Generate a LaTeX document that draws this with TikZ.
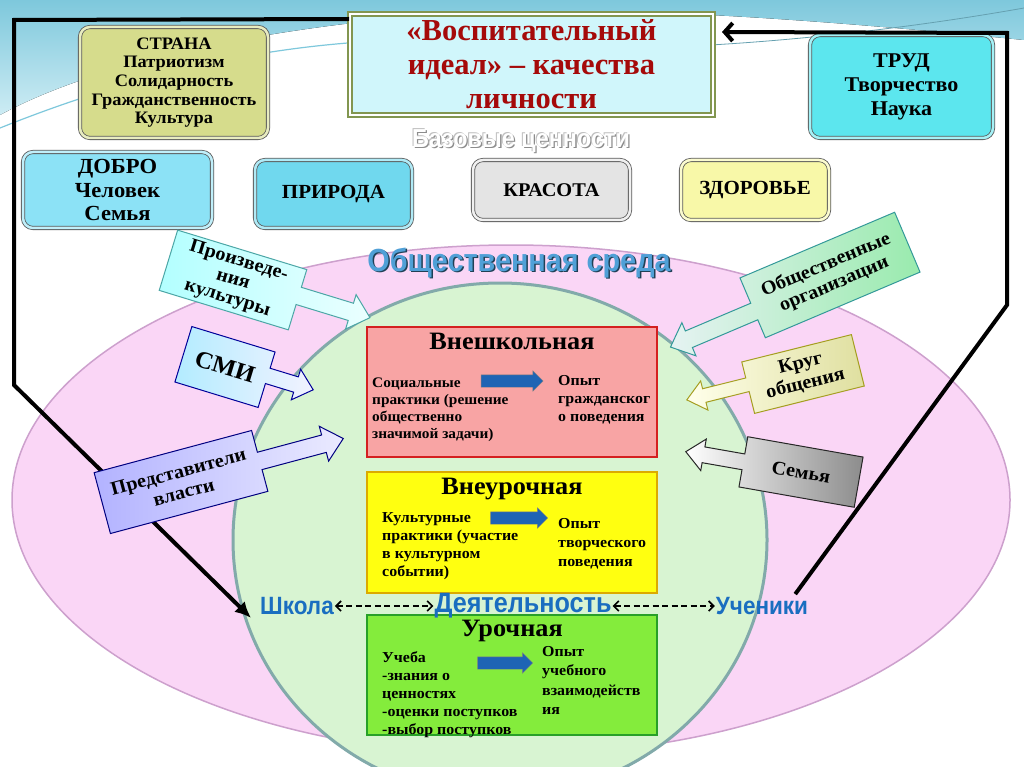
\documentclass[tikz,border=0pt]{standalone}
\usepackage{fontspec}
\setmainfont[FakeStretch=1.05]{Liberation Serif}
\newfontfamily\titleserif{Liberation Serif}
\newfontfamily\headsans[FakeStretch=0.9]{Liberation Sans}
\usetikzlibrary{arrows.meta,shapes.arrows,positioning}

\definecolor{skyblue}{RGB}{126,200,220}
\definecolor{skypale}{RGB}{205,236,244}
\definecolor{idealred}{RGB}{165,10,10}
\definecolor{idealfill}{RGB}{208,246,251}
\definecolor{idealedge}{RGB}{130,150,80}
\definecolor{stranafill}{RGB}{214,220,140}
\definecolor{trudfill}{RGB}{92,230,238}
\definecolor{dobrofill}{RGB}{140,226,246}
\definecolor{prirodafill}{RGB}{112,216,238}
\definecolor{krasotafill}{RGB}{228,228,228}
\definecolor{zdorfill}{RGB}{248,248,168}
\definecolor{sredapink}{RGB}{250,214,246}
\definecolor{sredaedge}{RGB}{205,160,205}
\definecolor{shkolagreen}{RGB}{216,244,210}
\definecolor{shkolaedge}{RGB}{130,170,170}
\definecolor{vneshfill}{RGB}{248,164,164}
\definecolor{vneshedge}{RGB}{212,32,32}
\definecolor{vneurfill}{RGB}{255,255,16}
\definecolor{vneuredge}{RGB}{220,170,0}
\definecolor{urokfill}{RGB}{132,236,60}
\definecolor{urokedge}{RGB}{40,160,40}
\definecolor{actblue}{RGB}{30,100,180}
\definecolor{labelblue}{RGB}{26,110,192}
\definecolor{sredablue}{RGB}{80,160,215}

\tikzset{
  valbox/.style={rectangle, rounded corners=10pt, draw=black!65, line width=0.8pt,
    double=#1!55!white, double distance=2.5pt, fill=#1, align=center, inner sep=2pt},
  actbox/.style={rectangle, fill=#1fill, draw=#1edge, line width=2pt,
    minimum width=290pt},
  acttitle/.style={font=\bfseries\fontsize{25}{26}\selectfont, inner sep=1pt},
  acttext/.style={anchor=north west, align=left, inner sep=0pt,
    font=\bfseries\fontsize{15.2}{18}\selectfont},
  bluearr/.style={single arrow, draw=black!50, fill=actblue, minimum height=#1,
    inner sep=0pt, inner ysep=6pt, single arrow head extend=4pt},
  calltext/.style={align=center, font=\bfseries\fontsize{19.2}{21}\selectfont},
  backline/.style={line width=4pt, black},
  dashlink/.style={dash pattern=on 6pt off 3.5pt, line width=1.6pt,
    {Straight Barb[length=5pt,width=10pt]}-{Straight Barb[length=5pt,width=10pt]}},
  actlabel/.style={font=\headsans\bfseries\fontsize{25}{26}\selectfont,
    text=labelblue, inner sep=1pt},
  basefont/.style={font=\headsans\bfseries\fontsize{26}{27}\selectfont},
}

\begin{document}
\begin{tikzpicture}[x=1pt,y=1pt]
  \useasboundingbox (0,0) rectangle (1024,-767);
  \clip (0,0) rectangle (1024,-767);
  \fill[white] (0,0) rectangle (1024,-767);

  % background swoosh
  \fill[top color=skyblue, bottom color=skypale] (0,0) -- (1024,0) -- (1024,-40)
    .. controls (820,-20) and (620,-4) .. (450,-14)
    .. controls (300,-24) and (110,-55) .. (0,-115) -- cycle;
  \draw[skyblue, line width=1.2pt] (0,-128) .. controls (120,-80) and (250,-45) .. (400,-40);
  \draw[skyblue!80!black, line width=0.8pt] (1024,-8) .. controls (900,-30) and (760,-45) .. (640,-48);

  % sredy
  \fill[sredapink, draw=sredaedge, line width=1.5pt] (511,-500) ellipse [x radius=499, y radius=255];
  \fill[shkolagreen, draw=shkolaedge, line width=3pt] (500,-540) ellipse [x radius=267, y radius=257];

  % ideal and base values
  \node[rectangle, fill=idealfill, draw=idealedge, line width=2pt, double=white,
        double distance=1.2pt, minimum width=363pt, minimum height=101pt, align=center,
        text=idealred, font=\titleserif\bfseries\fontsize{30.5}{34}\selectfont] (ideal) at (531.5,-64.5)
       {«Воспитательный\\идеал» – качества\\личности};

  \node[basefont, text=black!45] at (522.3,-142.3) {Базовые ценности};
  \node[basefont, text=black!25] at (520,-140) {Базовые ценности};
  \node[basefont, text=white] (bazovye) at (521,-141) {Базовые ценности};

  \node[valbox=stranafill, minimum width=188pt, minimum height=111pt,
        font=\bfseries\fontsize{17.5}{18.6}\selectfont] (strana) at (174,-82.5)
       {СТРАНА\\Патриотизм\\Солидарность\\Гражданственность\\Культура};
  \node[valbox=trudfill, minimum width=183pt, minimum height=103pt,
        font=\bfseries\fontsize{21}{24}\selectfont] (trud) at (901.5,-86.5)
       {ТРУД\\Творчество\\Наука};
  \node[valbox=dobrofill, minimum width=189pt, minimum height=76pt,
        font=\bfseries\fontsize{21.5}{23.5}\selectfont] (dobro) at (117.5,-190)
       {ДОБРО\\Человек\\Семья};
  \node[valbox=prirodafill, minimum width=157pt, minimum height=68pt,
        font=\bfseries\fontsize{20}{22}\selectfont] (priroda) at (333.5,-194) {ПРИРОДА};
  \node[valbox=krasotafill, minimum width=157pt, minimum height=60pt,
        font=\bfseries\fontsize{19.4}{22}\selectfont] (krasota) at (551.5,-190) {КРАСОТА};
  \node[valbox=zdorfill, minimum width=148pt, minimum height=60pt,
        font=\bfseries\fontsize{20}{22}\selectfont] (zdorovie) at (755,-190) {ЗДОРОВЬЕ};

  \node[text=sredablue!40!black, font=\headsans\bfseries\fontsize{32}{33}\selectfont] at (520.5,-264.5) {Общественная среда};
  \node[text=sredablue, font=\headsans\bfseries\fontsize{32}{33}\selectfont] (sreda) at (519,-263) {Общественная среда};

  % activity boxes
  \node[actbox=vnesh, minimum height=130pt] (vneshk) at (512,-392) {};
  \node[acttitle, below=6pt of vneshk.north] {Внешкольная};
  \node[acttext, font=\bfseries\fontsize{14.6}{16.8}\selectfont] (socpr) at (372,-378)
       {Социальные\\практики (решение\\общественно\\значимой задачи)};
  \node[acttext] (grazhd) at (558,-375) {Опыт\\гражданског\\о поведения};
  \node[bluearr=62pt] (arr1) at (509,-381) {};

  \node[actbox=vneur, minimum height=121pt] (vneur) at (512,-532.5) {};
  \node[acttitle, below=6pt of vneur.north] {Внеурочная};
  \node[acttext] (kultpr) at (382,-512)
       {Культурные\\практики (участие\\в культурном\\событии)};
  \node[acttext, font=\bfseries\fontsize{15.2}{19}\selectfont] (tvorch) at (558,-518)
       {Опыт\\творческого\\поведения};
  \node[bluearr=57pt] (arr2) at (516,-518) {};

  \node[actbox=urok, minimum height=120pt] (urok) at (512,-675) {};
  \node[acttitle, below=5pt of urok.north] {Урочная};
  \node[acttext] (ucheba) at (382,-651)
       {Учеба\\-знания о\\ценностях\\-оценки поступков\\-выбор поступков};
  \node[acttext, font=\bfseries\fontsize{15.2}{19.5}\selectfont] (uchvz) at (542,-646)
       {Опыт\\учебного\\взаимодейств\\ия};
  \node[bluearr=55pt] (arr3) at (502,-663) {};

  % school, activity, pupils
  \node[actlabel] (shkola) at (297,-606) {Школа};
  \node[actlabel, font=\headsans\bfseries\fontsize{28}{30}\selectfont] (deyat) at (523,-606) {Деятельность};
  \node[actlabel] (uchen) at (762,-606) {Ученики};
  \draw[dashlink] (shkola.east) -- (deyat.west);
  \draw[dashlink] (deyat.east) -- (uchen.west);

  % feedback lines
  \coordinate (lturn1) at (14,-20);
  \coordinate (lturn2) at (14,-385);
  \coordinate (rturn1) at (1007,-305);
  \coordinate (rturn2) at (1007,-33);
  \draw[backline, -{Latex[length=16pt,width=15pt]}]
    ([yshift=-6pt]ideal.north west) -- (lturn1) -- (lturn2) -- ([xshift=-8pt,yshift=-2pt]shkola.south west);
  \draw[backline, -{Straight Barb[length=8pt,width=18pt]}]
    ([xshift=-14pt,yshift=2pt]uchen.north east) -- (rturn1) -- (rturn2) -- ([xshift=8pt,yshift=-19pt]ideal.north east);

  % influences
  \begin{scope}[shift={(233,-280)}, rotate=-17, transform shape]
    \shade[left color=cyan!30, right color=cyan!8, draw=teal!70, line width=1pt]
      (-67.5,-31.5) -- (67.5,-31.5) -- (67.5,-5) -- (122,-5) -- (122,-14) -- (142,4)
      -- (122,22) -- (122,13) -- (67.5,13) -- (67.5,31.5) -- (-67.5,31.5) -- cycle;
    \node[calltext, font=\bfseries\fontsize{19.2}{19.5}\selectfont] (proizv) at (0,0) {Произведе-\\ния\\культуры};
  \end{scope}
  \begin{scope}[shift={(225,-367)}, rotate=-17, transform shape]
    \shade[left color=blue!25!cyan!30, right color=blue!5, draw=blue!60!black, line width=1pt]
      (-43.5,-29) -- (43.5,-29) -- (43.5,-4) -- (73,-4) -- (73,-12) -- (91,4)
      -- (73,20) -- (73,12) -- (43.5,12) -- (43.5,29) -- (-43.5,29) -- cycle;
    \node[calltext, font=\bfseries\fontsize{24}{26}\selectfont] (smi) at (0,0) {СМИ};
  \end{scope}
  \begin{scope}[shift={(181,-482)}, rotate=15, transform shape]
    \shade[left color=blue!30, right color=blue!8, draw=blue!50!black, line width=1pt]
      (-81.5,-31.5) -- (81.5,-31.5) -- (81.5,-9) -- (148,-9) -- (148,-18) -- (168,0)
      -- (148,18) -- (148,9) -- (81.5,9) -- (81.5,31.5) -- (-81.5,31.5) -- cycle;
    \node[calltext] (vlast) at (0,0) {Представители\\власти};
  \end{scope}
  \begin{scope}[shift={(830,-275)}, rotate=23, transform shape]
    \shade[left color=teal!10, right color=teal!40!green!40, draw=teal!80, line width=1pt]
      (84,-32.5) -- (-84,-32.5) -- (-84,-13) -- (-155,-13) -- (-155,-22) -- (-175,-4)
      -- (-155,14) -- (-155,5) -- (-84,5) -- (-84,32.5) -- (84,32.5) -- cycle;
    \node[calltext] (orgs) at (0,0) {Общественные\\организации};
  \end{scope}
  \begin{scope}[shift={(803,-374)}, rotate=14, transform shape]
    \shade[left color=yellow!8, right color=olive!25, draw=olive!80, line width=1pt]
      (56.5,-26.5) -- (-56.5,-26.5) -- (-56.5,-4) -- (-101,-4) -- (-101,-12) -- (-119,3)
      -- (-101,18) -- (-101,10) -- (-56.5,10) -- (-56.5,26.5) -- (56.5,26.5) -- cycle;
    \node[calltext] (krug) at (0,0) {Круг\\общения};
  \end{scope}
  \begin{scope}[shift={(801,-472)}, rotate=-10, transform shape]
    \shade[left color=white, right color=black!45, draw=black!85, line width=1pt]
      (58.5,-25.5) -- (-58.5,-25.5) -- (-58.5,-8) -- (-99,-8) -- (-99,-16) -- (-117,0)
      -- (-99,16) -- (-99,8) -- (-58.5,8) -- (-58.5,25.5) -- (58.5,25.5) -- cycle;
    \node[calltext] (semya) at (0,0) {Семья};
  \end{scope}
\end{tikzpicture}
\end{document}
